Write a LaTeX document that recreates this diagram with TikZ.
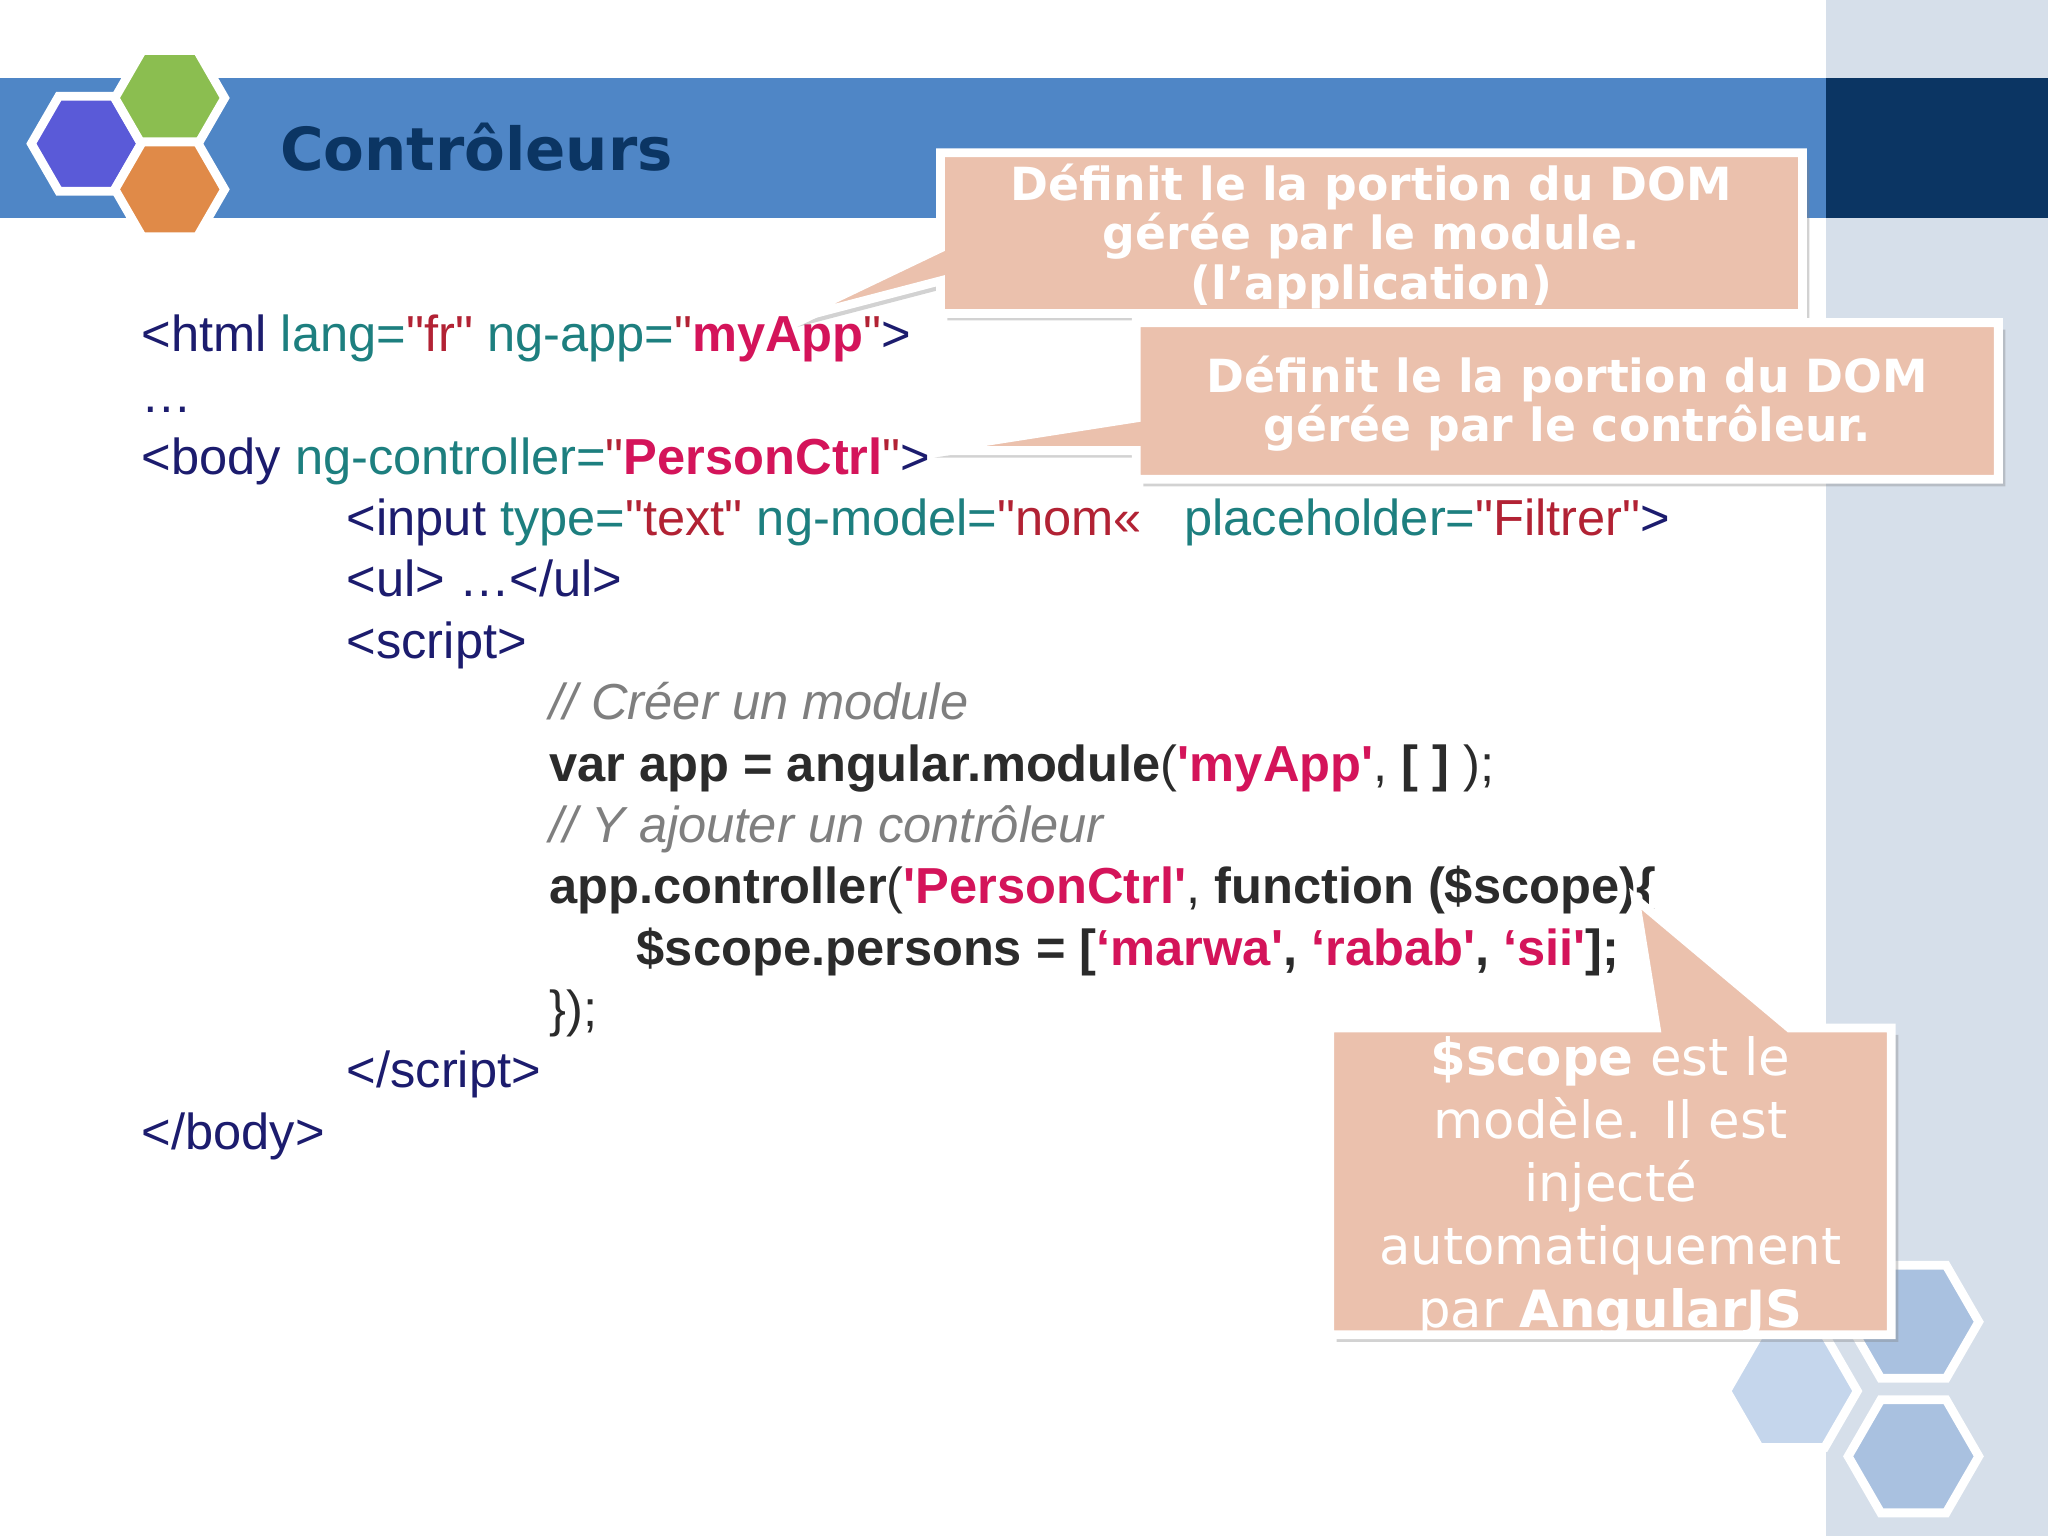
\documentclass[tikz,border=0pt]{standalone}
\usepackage{fontspec}
\setmainfont{Liberation Sans}[Ligatures=TeXOff]
\newfontfamily\vfont{DejaVu Sans}
\usetikzlibrary{shadows,calc}
\definecolor{band}{HTML}{4F86C6}
\definecolor{navy}{HTML}{0B3563}
\definecolor{panel}{HTML}{D6DFEA}
\definecolor{call}{HTML}{EBC1AD}
\definecolor{tagc}{HTML}{1C1C6E}
\definecolor{attc}{HTML}{1D7F7F}
\definecolor{strc}{HTML}{B22234}
\definecolor{hic}{HTML}{D4145A}
\definecolor{codec}{HTML}{2B2B2B}
\definecolor{cmtc}{HTML}{7F7F7F}
\definecolor{hexa}{HTML}{A9C1E0}
\definecolor{hexb}{HTML}{C5D6EC}
\definecolor{lblue}{HTML}{5A5AD8}
\definecolor{lgreen}{HTML}{8BBE50}
\definecolor{lorange}{HTML}{E08A48}
\tikzset{
 code/.style={anchor=base west,inner sep=0pt,font=\fontsize{14.4}{16}\selectfont},
 callbox/.style={fill=call,draw=white,line width=2.5pt,drop shadow={opacity=0.35,shadow xshift=2pt,shadow yshift=-2pt}},
 ctext/.style={text=white,font=\vfont\bfseries\fontsize{13}{15}\selectfont,align=center}
}
\newcommand{\hexat}[3]{\fill[#3,draw=white,line width=2.5pt] ($(#1)+(0:#2)$) -- ($(#1)+(60:#2)$) -- ($(#1)+(120:#2)$) -- ($(#1)+(180:#2)$) -- ($(#1)+(240:#2)$) -- ($(#1)+(300:#2)$) -- cycle;}
\begin{document}
\begin{tikzpicture}[x=0.013061cm,y=-0.013061cm]
\useasboundingbox (0,0) rectangle (1568,1176);
\fill[white] (0,0) rectangle (1568,1176);
\fill[panel] (1398,0) rectangle (1568,1176);
\fill[band] (0,60) rectangle (1398,167);
\fill[navy] (1398,60) rectangle (1568,167);
\begin{scope}[y=0.013061cm]
\hexat{1465,-1012}{50}{hexa}
\hexat{1372,-1065}{50}{hexb}
\hexat{1465,-1115}{50}{hexa}
\hexat{66,-110}{42}{lblue}
\hexat{130,-75}{42}{lgreen}
\hexat{130,-145}{42}{lorange}
\end{scope}
\node[anchor=west,text=navy,font=\vfont\bfseries\fontsize{16.9}{20}\selectfont] (title) at (205,113) {Contrôleurs};
% code
\node[code,text=tagc] (l1) at (108,269) {<html\ \textcolor{attc}{lang=}\textcolor{strc}{"fr"}\ \textcolor{attc}{ng-app=}\textcolor{strc}{"}\textcolor{hic}{\bfseries myApp}\textcolor{strc}{"}>};
\node[code,text=tagc] (l2) at (108,316) {…};
\node[code,text=tagc] (l3) at (108,363) {<body\ \textcolor{attc}{ng-controller=}\textcolor{strc}{"}\textcolor{hic}{\bfseries PersonCtrl}\textcolor{strc}{"}>};
\node[code,text=tagc] (l4) at (265,410) {<input\ \textcolor{attc}{type=}\textcolor{strc}{"text"}\ \textcolor{attc}{ng-model=}\textcolor{strc}{"nom«}\ \ \ \textcolor{attc}{placeholder=}\textcolor{strc}{"Filtrer"}>};
\node[code,text=tagc] (l5) at (265,457) {<ul> …</ul>};
\node[code,text=tagc] (l6) at (265,504) {<script>};
\node[code,text=cmtc,font=\fontsize{14.4}{16}\selectfont\itshape] (l7) at (420,551) {// Créer un module};
\node[code,text=codec] (l8) at (420,598) {\bfseries var app = angular.module\mdseries(\textcolor{hic}{\bfseries'myApp'}, \bfseries[ ]\mdseries\ );};
\node[code,text=cmtc,font=\fontsize{14.4}{16}\selectfont\itshape] (l9) at (420,645) {// Y ajouter un contrôleur};
\node[code,text=codec] (l10) at (420,692) {\bfseries app.controller\mdseries(\textcolor{hic}{\bfseries'PersonCtrl'}, \bfseries function (\$scope)\{};
\node[code,text=codec] (l11) at (487,739) {\bfseries \$scope.persons = [\textcolor{hic}{‘marwa'}, \textcolor{hic}{‘rabab'}, \textcolor{hic}{‘sii'}];};
\node[code,text=codec] (l12) at (420,786) {\});};
\node[code,text=tagc] (l13) at (265,833) {</script>};
\node[code,text=tagc] (l14) at (108,880) {</body>};
% callout 1
\coordinate (t1) at (605,245);
\draw[callbox] (720,117) -- (1380,117) -- (1380,240) -- (720,240) -- (720,215) -- (t1) -- (720,190) -- cycle;
\node[ctext] (c1) at (1050,181) {Définit le la portion du DOM\\[-1pt]gérée par le module.\\[-1pt](l’application)};
% callout 2
\coordinate (t2) at (710,345);
\draw[callbox] (870,247) -- (1530,247) -- (1530,367) -- (870,367) -- (870,345) -- (t2) -- (870,320) -- cycle;
\node[ctext] (c2) at (1200,309) {Définit le la portion du DOM\\[-1pt]gérée par le contrôleur.};
% callout 3
\coordinate (t3) at (1252,688);
\draw[callbox] (1018,787) -- (1268,787) -- (t3) -- (1370,787) -- (1448,787) -- (1448,1022) -- (1018,1022) -- cycle;
\node[text=white,font=\vfont\fontsize{14.6}{17.9}\selectfont,align=center] (c3) at (1233,909) {\textbf{\$scope} est le\\modèle. Il est\\injecté\\automatiquement\\par \textbf{AngularJS}};
\end{tikzpicture}
\end{document}
